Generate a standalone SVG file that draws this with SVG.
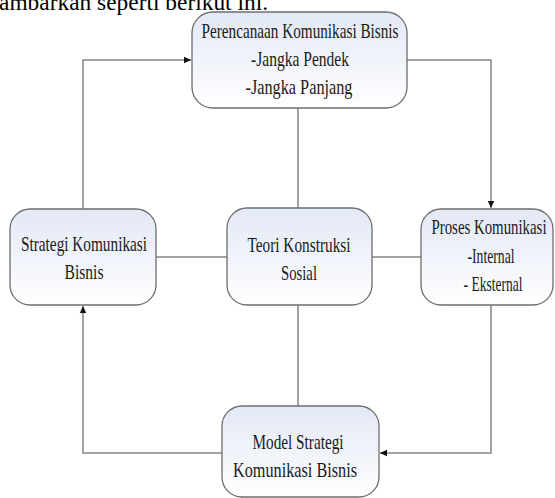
<svg xmlns="http://www.w3.org/2000/svg" width="555" height="498" viewBox="0 0 555 498">
  <defs>
    <linearGradient id="nodeFill" x1="0" y1="0" x2="0" y2="1">
      <stop offset="0" stop-color="#e2e8f5"/>
      <stop offset="1" stop-color="#ffffff"/>
    </linearGradient>
    <marker id="arrow" markerWidth="8" markerHeight="8" refX="7" refY="4" orient="auto" markerUnits="userSpaceOnUse">
      <path d="M0,0.8 L7,4 L0,7.2 Z" fill="#111"/>
    </marker>
  </defs>
  <style>
    .node rect { fill: url(#nodeFill); stroke: #6e6e6e; stroke-width: 1.3; }
    .node text { font-family: "Liberation Serif", "Times New Roman", serif; font-size: 22px; fill: #1a1a1a; text-anchor: middle; }
    .conn { fill: none; stroke: #858585; stroke-width: 1.5; }
    .heading { font-family: "Liberation Serif", "Times New Roman", serif; font-size: 24px; fill: #000; }
  </style>

  <rect width="555" height="498" fill="#ffffff"/>

  <text class="heading" x="-1" y="10" textLength="269" lengthAdjust="spacingAndGlyphs">ambarkan seperti berikut ini.</text>

  <g id="connectors">
    <polyline class="conn" points="83,209 83,60 191,60" marker-end="url(#arrow)"/>
    <polyline class="conn" points="407,60 491,60 491,208" marker-end="url(#arrow)"/>
    <polyline class="conn" points="491,305 491,453 380,453" marker-end="url(#arrow)"/>
    <polyline class="conn" points="222,453 83,453 83,306" marker-end="url(#arrow)"/>
    <line class="conn" x1="298" y1="108" x2="298" y2="208"/>
    <line class="conn" x1="298" y1="305" x2="298" y2="406"/>
    <line class="conn" x1="156" y1="257" x2="227" y2="257"/>
    <line class="conn" x1="372" y1="257" x2="421" y2="257"/>
  </g>

  <g id="perencanaan" class="node">
    <rect x="192" y="12" width="215" height="96" rx="21"/>
    <text x="300" y="38" textLength="197" lengthAdjust="spacingAndGlyphs">Perencanaan Komunikasi Bisnis</text>
    <text x="300" y="66" textLength="98" lengthAdjust="spacingAndGlyphs">-Jangka Pendek</text>
    <text x="299" y="94" textLength="107" lengthAdjust="spacingAndGlyphs">-Jangka Panjang</text>
  </g>

  <g id="strategi" class="node">
    <rect x="10" y="209" width="146" height="96" rx="20"/>
    <text x="84" y="251" textLength="126" lengthAdjust="spacingAndGlyphs">Strategi Komunikasi</text>
    <text x="84" y="279" textLength="39" lengthAdjust="spacingAndGlyphs">Bisnis</text>
  </g>

  <g id="teori" class="node">
    <rect x="227" y="208" width="145" height="97" rx="20"/>
    <text x="299" y="252" textLength="103" lengthAdjust="spacingAndGlyphs">Teori Konstruksi</text>
    <text x="299" y="280" textLength="36" lengthAdjust="spacingAndGlyphs">Sosial</text>
  </g>

  <g id="proses" class="node">
    <rect x="421" y="209" width="132" height="96" rx="20"/>
    <text x="489" y="234" textLength="115" lengthAdjust="spacingAndGlyphs">Proses Komunikasi</text>
    <text x="491" y="263" textLength="47" lengthAdjust="spacingAndGlyphs">-Internal</text>
    <text x="493" y="291" textLength="59" lengthAdjust="spacingAndGlyphs">- Eksternal</text>
  </g>

  <g id="model" class="node">
    <rect x="222" y="406" width="157" height="91" rx="20"/>
    <text x="298" y="449" textLength="91" lengthAdjust="spacingAndGlyphs">Model Strategi</text>
    <text x="295" y="477" textLength="124" lengthAdjust="spacingAndGlyphs">Komunikasi Bisnis</text>
  </g>
</svg>
